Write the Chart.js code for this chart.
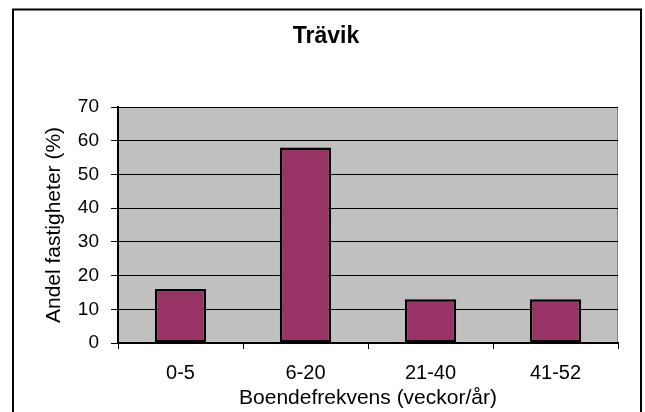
<!DOCTYPE html>
<html>
<head>
<meta charset="utf-8">
<script src="https://cdn.jsdelivr.net/npm/chart.js@4/dist/chart.umd.min.js"></script>
<style>
  html, body { margin: 0; padding: 0; background: #ffffff; }
  #c { display: block; }
</style>
</head>
<body>
<canvas id="c" width="645" height="412"></canvas>
<script>
// Share of properties by occupancy frequency (weeks per year)
const chartTitle = 'Trävik';
const categories = ['0-5', '6-20', '21-40', '41-52'];
const shares = [16, 58, 13, 13];
const yTicks = [0, 10, 20, 30, 40, 50, 60, 70];
const xTitle = 'Boendefrekvens (veckor/år)';
const yTitle = 'Andel fastigheter (%)';

const FONT = '"Liberation Sans", Arial, Helvetica, sans-serif';

// White page, outer frame and grey plot background
const backdrop = {
  id: 'backdrop',
  beforeDraw(chart) {
    const { ctx, chartArea: a } = chart;
    ctx.save();
    ctx.fillStyle = '#ffffff';
    ctx.fillRect(0, 0, chart.width, chart.height);
    ctx.strokeStyle = '#000000';
    ctx.lineWidth = 2;
    ctx.strokeRect(13, 9.5, 628, 420);
    ctx.fillStyle = '#c0c0c0';
    ctx.fillRect(a.left, a.top, a.right - a.left, a.bottom - a.top);
    ctx.strokeStyle = '#808080';
    ctx.lineWidth = 1;
    ctx.beginPath();
    ctx.moveTo(Math.round(a.right) - 0.5, a.top);
    ctx.lineTo(Math.round(a.right) - 0.5, a.bottom);
    ctx.stroke();
    ctx.restore();
  }
};

new Chart(document.getElementById('c'), {
  type: 'bar',
  data: {
    labels: categories,
    datasets: [{
      data: shares,
      backgroundColor: '#993366',
      borderColor: '#000000',
      borderWidth: 2.5,
      borderSkipped: false,
      categoryPercentage: 1,
      barPercentage: 0.41
    }]
  },
  options: {
    responsive: false,
    animation: false,
    events: [],
    layout: { padding: { left: 34, right: 27, top: 0, bottom: 0 } },
    plugins: {
      legend: { display: false },
      tooltip: { enabled: false },
      title: {
        display: true,
        text: chartTitle,
        color: '#000000',
        font: { family: FONT, size: 23, weight: 'bold', lineHeight: 1.2 },
        padding: { top: 22.4, bottom: 57 }
      }
    },
    scales: {
      x: {
        afterFit(scale) { scale.height = 69; },
        grid: {
          offset: true,
          drawOnChartArea: false,
          drawTicks: true,
          tickLength: 6,
          color: '#000000',
          lineWidth: 1
        },
        border: { display: true, color: '#000000', width: 2 },
        ticks: {
          color: '#000000',
          font: { family: FONT, size: 20 },
          padding: 12,
          maxRotation: 0
        },
        title: {
          display: true,
          text: xTitle,
          color: '#000000',
          font: { family: FONT, size: 21, lineHeight: 1.2 },
          padding: { top: 0, bottom: 1.4 }
        }
      },
      y: {
        min: yTicks[0],
        max: yTicks[yTicks.length - 1],
        afterFit(scale) { scale.width = 84; },
        afterBuildTicks(scale) { scale.ticks = yTicks.map(v => ({ value: v })); },
        grid: {
          color: '#000000',
          lineWidth: 1,
          drawTicks: true,
          tickLength: 7
        },
        border: { display: true, color: '#000000', width: 2 },
        ticks: {
          color: '#000000',
          font: { family: FONT, size: 19 },
          padding: 12
        },
        title: {
          display: true,
          text: yTitle,
          color: '#000000',
          font: { family: FONT, size: 21, lineHeight: 1.2 },
          padding: { top: 7.4, bottom: 0 }
        }
      }
    }
  },
  plugins: [backdrop]
});
</script>
</body>
</html>
